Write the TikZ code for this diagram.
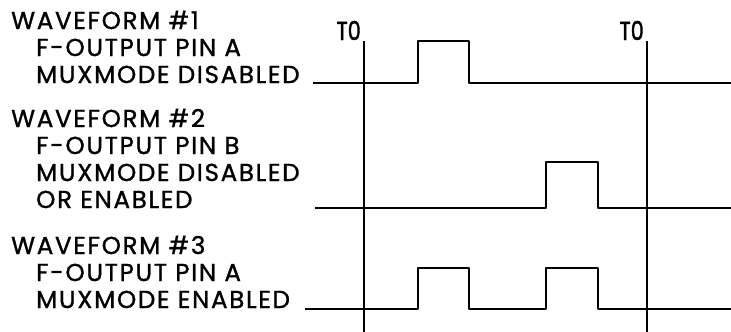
\documentclass[tikz,border=0pt]{standalone}
\usepackage{fontspec}
\setmainfont{Poppins}[LetterSpace=7,FakeBold=1.2]
\newfontfamily\tzfont{Poppins}[FakeBold=1.8]
\begin{document}
\begin{tikzpicture}[x=1pt,y=-1pt,
  lbl/.style={anchor=base west,inner sep=0pt,font=\fontsize{24.5}{24.5}\selectfont},
  tzl/.style={anchor=base east,inner sep=0pt,font=\tzfont\fontsize{26}{26}\selectfont},
  wave/.style={line width=2.3pt,line join=round},
  grid/.style={line width=1.1pt}]
\useasboundingbox (0,0) rectangle (731,332);
% labels
\node[lbl] (w1a) at (11,29) {WAVEFORM \#1};
\node[lbl] (w1b) at (36,56) {F-OUTPUT PIN A};
\node[lbl] (w1c) at (36,83) {MUXMODE DISABLED};
\node[lbl] (w2a) at (11,127) {WAVEFORM \#2};
\node[lbl] (w2b) at (36,154) {F-OUTPUT PIN B};
\node[lbl] (w2c) at (36,181) {MUXMODE DISABLED};
\node[lbl] (w2d) at (36,208) {OR ENABLED};
\node[lbl] (w3a) at (11,254) {WAVEFORM \#3};
\node[lbl] (w3b) at (36,281) {F-OUTPUT PIN A};
\node[lbl] (w3c) at (36,308) {MUXMODE ENABLED};
% T0 markers
\node[tzl] (t0a) at (361,40) {\scalebox{0.8}[1]{T0}};
\node[tzl] (t0b) at (644,40) {\scalebox{0.8}[1]{T0}};
\coordinate (v1t) at (364,41); \coordinate (v1b) at (364,332);
\coordinate (v2t) at (647,41); \coordinate (v2b) at (647,332);
\draw[grid] (v1t) -- (v1b);
\draw[grid] (v2t) -- (v2b);
% waveform 1
\draw[wave] (313,83) -- (418,83) -- (418,41) -- (469,41) -- (469,83) -- (731,83);
% waveform 2
\draw[wave] (315,208) -- (546,208) -- (546,162) -- (598,162) -- (598,208) -- (731,208);
% waveform 3
\draw[wave] (305,309) -- (418,309) -- (418,268) -- (469,268) -- (469,309)
  -- (546,309) -- (546,268) -- (598,268) -- (598,309) -- (731,309);
\end{tikzpicture}
\end{document}
